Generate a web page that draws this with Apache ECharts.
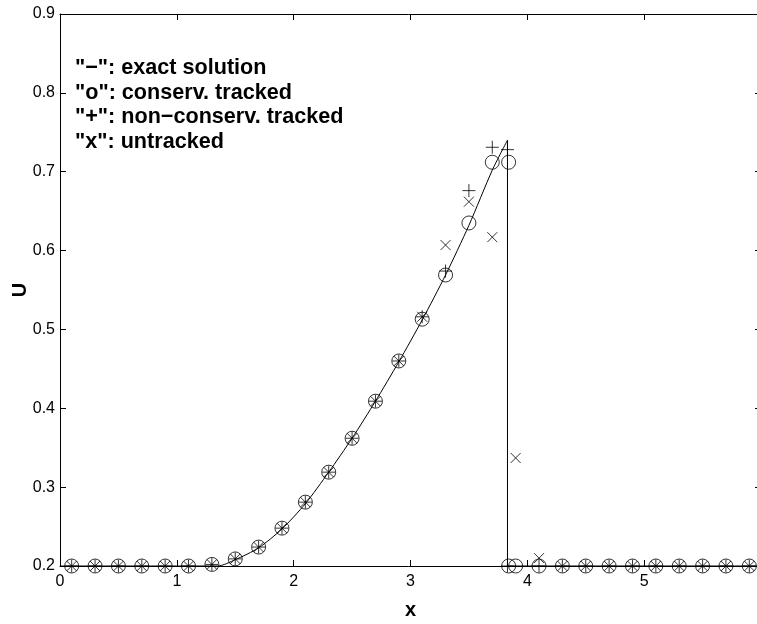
<!DOCTYPE html>
<html lang="en">
<head>
    <meta charset="UTF-8">
    <title>Exact vs tracked vs untracked</title>
    <script src="https://cdn.jsdelivr.net/npm/echarts@6/dist/echarts.min.js"></script>
    <style>
        html, body, #chart {
            width: 757px;
            height: 624px;
            padding: 0;
            margin: 0;
            background: #fff;
        }
    </style>
</head>
<body>
<div id="chart"></div>
<script>
    // exact solution: smooth rise, shock at x ~ 3.83, then flat
    var exactX = [0, 1.35, 1.5, 1.7, 1.9, 2.1, 2.3, 2.5, 2.7, 2.9, 3.1, 3.3, 3.5, 3.7, 3.83, 3.83, 6];
    var exactU = [0.2, 0.2, 0.208, 0.223, 0.247, 0.279, 0.319, 0.362, 0.409, 0.459, 0.512, 0.569, 0.632, 0.702, 0.740, 0.2, 0.2];

    // "o": conservative tracked
    var consX = [0.1, 0.3, 0.5, 0.7, 0.9, 1.1, 1.3, 1.5, 1.7, 1.9, 2.1, 2.3, 2.5, 2.7, 2.9, 3.1, 3.3, 3.5, 3.7,
        3.84, 3.84, 3.9, 4.1, 4.3, 4.5, 4.7, 4.9, 5.1, 5.3, 5.5, 5.7, 5.9];
    var consU = [0.2, 0.2, 0.2, 0.2, 0.2, 0.2, 0.202, 0.209, 0.224, 0.248, 0.281, 0.319, 0.362, 0.409, 0.460, 0.513, 0.569, 0.635, 0.712,
        0.712, 0.2, 0.2, 0.2, 0.2, 0.2, 0.2, 0.2, 0.2, 0.2, 0.2, 0.2, 0.2];

    // "+": non-conservative tracked
    var nonConsX = [0.1, 0.3, 0.5, 0.7, 0.9, 1.1, 1.3, 1.5, 1.7, 1.9, 2.1, 2.3, 2.5, 2.7, 2.9, 3.1, 3.3, 3.5, 3.7,
        3.83, 3.83, 4.1, 4.3, 4.5, 4.7, 4.9, 5.1, 5.3, 5.5, 5.7, 5.9];
    var nonConsU = [0.2, 0.2, 0.2, 0.2, 0.2, 0.2, 0.202, 0.209, 0.224, 0.248, 0.281, 0.319, 0.362, 0.409, 0.460, 0.516, 0.574, 0.676, 0.731,
        0.728, 0.2, 0.2, 0.2, 0.2, 0.2, 0.2, 0.2, 0.2, 0.2, 0.2, 0.2];

    // "x": untracked
    var untrackedX = [0.1, 0.3, 0.5, 0.7, 0.9, 1.1, 1.3, 1.5, 1.7, 1.9, 2.1, 2.3, 2.5, 2.7, 2.9, 3.1, 3.3, 3.5, 3.7,
        3.9, 4.1, 4.3, 4.5, 4.7, 4.9, 5.1, 5.3, 5.5, 5.7, 5.9];
    var untrackedU = [0.2, 0.2, 0.2, 0.2, 0.2, 0.2, 0.202, 0.209, 0.224, 0.248, 0.281, 0.319, 0.362, 0.409, 0.460, 0.516, 0.607, 0.662, 0.617,
        0.337, 0.210, 0.2, 0.2, 0.2, 0.2, 0.2, 0.2, 0.2, 0.2, 0.2];

    var legendLines = ['"\u2212": exact solution', '"o": conserv. tracked', '"+": non\u2212conserv. tracked', '"x": untracked'];

    function pairs(xs, ys, from, to) {
        var out = [];
        for (var i = from; i < to; i++) {
            out.push([xs[i], ys[i]]);
        }
        return out;
    }

    var font = '"Liberation Sans", Arial, sans-serif';
    var black = "#000";
    var hollow = {color: "transparent", borderColor: black, borderWidth: 1};

    function frameAxis(pos, withLabels) {
        return {
            type: "value",
            position: pos,
            axisLine: {show: true, onZero: false, lineStyle: {color: black, width: 1}},
            axisTick: {show: true, inside: true, length: 6, lineStyle: {color: black}},
            axisLabel: {show: withLabels, color: black, fontFamily: font, fontSize: 16, margin: 8},
            splitLine: {show: false}
        };
    }

    var xBottom = frameAxis("bottom", true);
    xBottom.min = 0; xBottom.max = 6; xBottom.interval = 1;
    xBottom.axisLabel.formatter = function (v) { return v >= 6 ? "" : String(v); };
    xBottom.name = "x";
    xBottom.nameLocation = "middle";
    xBottom.nameGap = 34;
    xBottom.nameMoveOverlap = false;
    xBottom.nameTextStyle = {color: black, fontFamily: font, fontSize: 20, fontWeight: "bold"};
    var xTop = frameAxis("top", false);
    xTop.min = 0; xTop.max = 6; xTop.interval = 1;

    var yLeft = frameAxis("left", true);
    yLeft.min = 0.2; yLeft.max = 0.9; yLeft.interval = 0.1;
    yLeft.axisLabel.formatter = function (v) { return v.toFixed(1); };
    yLeft.axisLabel.margin = 5;
    yLeft.name = "U";
    yLeft.nameLocation = "middle";
    yLeft.nameGap = 30;
    yLeft.nameMoveOverlap = false;
    yLeft.nameTextStyle = {color: black, fontFamily: font, fontSize: 20, fontWeight: "bold"};
    var yRight = frameAxis("right", false);
    yRight.min = 0.2; yRight.max = 0.9; yRight.interval = 0.1;

    var chart = echarts.init(document.getElementById("chart"), null, {renderer: "canvas"});
    chart.setOption({
        animation: false,
        backgroundColor: "#fff",
        grid: {left: 60, top: 14, right: -4, bottom: 58, containLabel: false, outerBoundsMode: "none"},
        xAxis: [xBottom, xTop],
        yAxis: [yLeft, yRight],
        graphic: legendLines.map(function (t, i) {
            return {
                type: "text",
                x: 75,
                y: 68 + i * 24.7,
                style: {
                    text: t,
                    fill: black,
                    font: 'bold 21.6px "Liberation Sans", Arial, sans-serif',
                    verticalAlign: "middle"
                }
            };
        }),
        series: [{
            type: "line",
            data: pairs(exactX, exactU, 0, 15),
            smooth: 0.25,
            symbol: "none",
            silent: true,
            lineStyle: {color: black, width: 1}
        }, {
            type: "line",
            data: pairs(exactX, exactU, 14, exactX.length),
            symbol: "none",
            silent: true,
            lineStyle: {color: black, width: 1}
        }, {
            type: "scatter",
            data: pairs(consX, consU, 0, consX.length),
            symbol: "circle",
            symbolSize: 14,
            silent: true,
            itemStyle: hollow
        }, {
            type: "scatter",
            data: pairs(nonConsX, nonConsU, 0, nonConsX.length),
            symbol: "path://M0,6L12,6M6,0L6,12",
            symbolSize: 13,
            silent: true,
            itemStyle: hollow
        }, {
            type: "scatter",
            data: pairs(untrackedX, untrackedU, 0, untrackedX.length),
            symbol: "path://M0,0L10,10M10,0L0,10",
            symbolSize: 10,
            silent: true,
            itemStyle: hollow
        }]
    });
</script>
</body>
</html>
